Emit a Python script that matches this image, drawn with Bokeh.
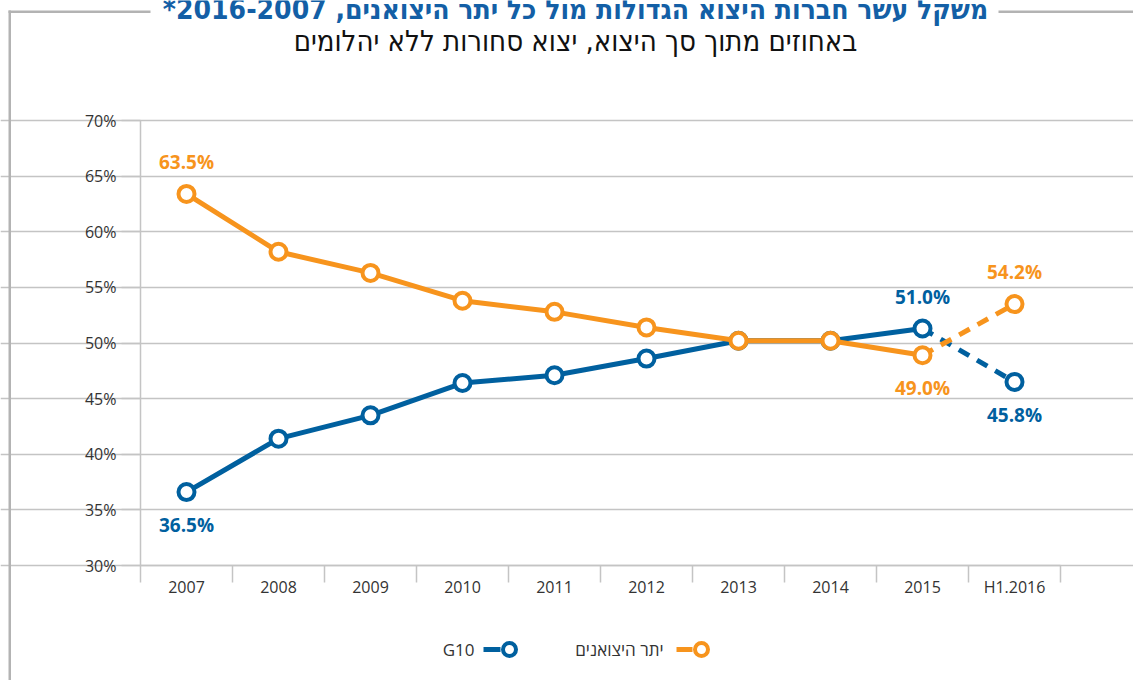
from bokeh.plotting import figure
from bokeh.models import (Range1d, FixedTicker, PrintfTickFormatter, Label,
                          BoxAnnotation, ColumnDataSource)
from bokeh.embed import file_html
from bokeh.resources import INLINE
from bokeh.core.properties import value

# ---------------- data ----------------
categories = ["2007", "2008", "2009", "2010", "2011", "2012", "2013", "2014", "2015", "H1.2016"]
g10_name = "G10"
others_name = "יתר היצואנים"
g10 = [36.6, 41.4, 43.5, 46.4, 47.1, 48.6, 50.2, 50.2, 51.3, 46.5]
others = [63.4, 58.2, 56.3, 53.8, 52.8, 51.4, 50.2, 50.2, 48.9, 53.5]
g10_labels = ["36.5%", "", "", "", "", "", "", "", "51.0%", "45.8%"]
others_labels = ["63.5%", "", "", "", "", "", "", "", "49.0%", "54.2%"]
y_ticks = [30, 35, 40, 45, 50, 55, 60, 65, 70]

title_text = "\u2067משקל עשר חברות היצוא הגדולות מול כל יתר היצואנים, 2016-2007*\u2069"
subtitle_text = "באחוזים מתוך סך היצוא, יצוא סחורות ללא יהלומים"

# ---------------- styles ----------------
BLUE = "#00609f"
ORANGE = "#f7941d"
TITLE_BLUE = "#135fa6"
GRID = "#c4c4c4"
FRAME_GREY = "#b3b3b3"
TXT = "#333333"

W, H = 1133, 680
# plot area in page pixels: left 140, top 120, 92 px per category, 11.125 px per percent
PL, PT, PX_CAT, PX_PCT = 140, 120, 92.0, 11.125
N = len(categories)


def X(px):
    return (px - PL) / PX_CAT


def Y(py):
    return 70 - (py - PT) / PX_PCT


xs = [i + 0.5 for i in range(N)]

p = figure(width=W, height=H, x_range=Range1d(X(0), X(W)), y_range=Range1d(Y(H), Y(0)),
           output_backend="svg", toolbar_location=None, min_border=0)
p.outline_line_color = None
p.background_fill_color = "white"
p.border_fill_color = "white"

# y axis, drawn at the left category boundary
p.yaxis.fixed_location = 0
p.yaxis.bounds = (y_ticks[0], y_ticks[-1])
p.yaxis.ticker = FixedTicker(ticks=y_ticks)
p.yaxis.formatter = PrintfTickFormatter(format="%d%%")
p.yaxis.major_tick_out = 19
p.yaxis.major_tick_in = 0
p.yaxis.minor_tick_line_color = None
p.yaxis.major_tick_line_color = GRID
p.yaxis.major_tick_line_width = 1.5
p.yaxis.axis_line_color = GRID
p.yaxis.axis_line_width = 1.5
p.yaxis.major_label_standoff = 5
p.yaxis.major_label_text_font = "Open Sans"
p.yaxis.major_label_text_font_size = "16px"
p.yaxis.major_label_text_color = TXT

# x axis at 30%: labels at centres, ticks at category boundaries
p.xaxis.fixed_location = y_ticks[0]
p.xaxis.bounds = (0, N)
p.xaxis.ticker = FixedTicker(ticks=xs, minor_ticks=list(range(N + 1)))
p.xaxis.major_label_overrides = {x: c for x, c in zip(xs, categories)}
p.xaxis.major_tick_out = 0
p.xaxis.major_tick_in = 0
p.xaxis.minor_tick_out = 17
p.xaxis.minor_tick_in = 0
p.xaxis.minor_tick_line_color = GRID
p.xaxis.minor_tick_line_width = 1.5
p.xaxis.axis_line_color = GRID
p.xaxis.axis_line_width = 1.5
p.xaxis.major_label_standoff = -7
p.xaxis.major_label_text_font = "Open Sans"
p.xaxis.major_label_text_font_size = "16px"
p.xaxis.major_label_text_color = TXT

p.xgrid.grid_line_color = None
p.ygrid.grid_line_color = GRID
p.ygrid.grid_line_width = 1.5
p.ygrid.bounds = (0, N)

# series
for vals, col in ((g10, BLUE), (others, ORANGE)):
    p.line(xs[:N - 1], vals[:N - 1], line_color=col, line_width=5)
    p.line(xs[N - 2:], vals[N - 2:], line_color=col, line_width=5, line_dash="12 9")
    p.scatter(xs, vals, size=16, marker="circle", fill_color="white",
              line_color=col, line_width=4)

# data labels (above the higher series, below the lower one)
lab_x, lab_y, lab_t, lab_c, lab_off = [], [], [], [], []
for vals, other, labs, col in ((g10, others, g10_labels, BLUE),
                               (others, g10, others_labels, ORANGE)):
    for i, t in enumerate(labs):
        if not t:
            continue
        lab_x.append(xs[i]); lab_y.append(vals[i]); lab_t.append(t); lab_c.append(col)
        lab_off.append(-32 if vals[i] >= other[i] else 33)
src = ColumnDataSource(dict(x=lab_x, y=lab_y, text=lab_t, color=lab_c, yo=lab_off))
p.text(x="x", y="y", text="text", source=src, text_color="color", y_offset="yo",
       text_align="center", text_baseline="middle", text_font=value("Open Sans"),
       text_font_style="bold", text_font_size="19px")

# titles
p.add_layout(Label(x=X(575), y=Y(9), text=title_text, text_align="center",
                   text_baseline="alphabetic", text_font="DejaVu Sans Condensed",
                   text_font_style="bold", text_font_size="28px", text_color=TITLE_BLUE))
p.add_layout(Label(x=X(575), y=Y(40), text=subtitle_text, text_align="center",
                   text_baseline="alphabetic", text_font="DejaVu Sans Condensed",
                   text_font_size="29px", text_color="#111111"))

# grey box frame lines
for l, r, t, b in ((8, 10.5, 10, H), (8, 150, 10, 12.5), (998, W, 10, 12.5)):
    p.add_layout(BoxAnnotation(left=X(l), right=X(r), top=Y(t), bottom=Y(b),
                               fill_color=FRAME_GREY, fill_alpha=1, line_color=None))

# legend (label to the left of its symbol)
LY = Y(649)
for name, col, text_right, line0, line1, circ in ((g10_name, BLUE, 474, 483, 500, 509),
                                                   (others_name, ORANGE, 663, 676, 692, 701)):
    p.line([X(line0), X(line1)], [LY, LY], line_color=col, line_width=5)
    p.scatter([X(circ)], [LY], size=13, marker="circle", fill_color="white",
              line_color=col, line_width=4)
    p.text(x=[X(text_right)], y=[LY], text=[name], text_align="right", text_baseline="middle",
           text_font=value("Open Sans"), text_font_size="17px", text_color=TXT)

open("out.html", "w").write(file_html(p, INLINE))
